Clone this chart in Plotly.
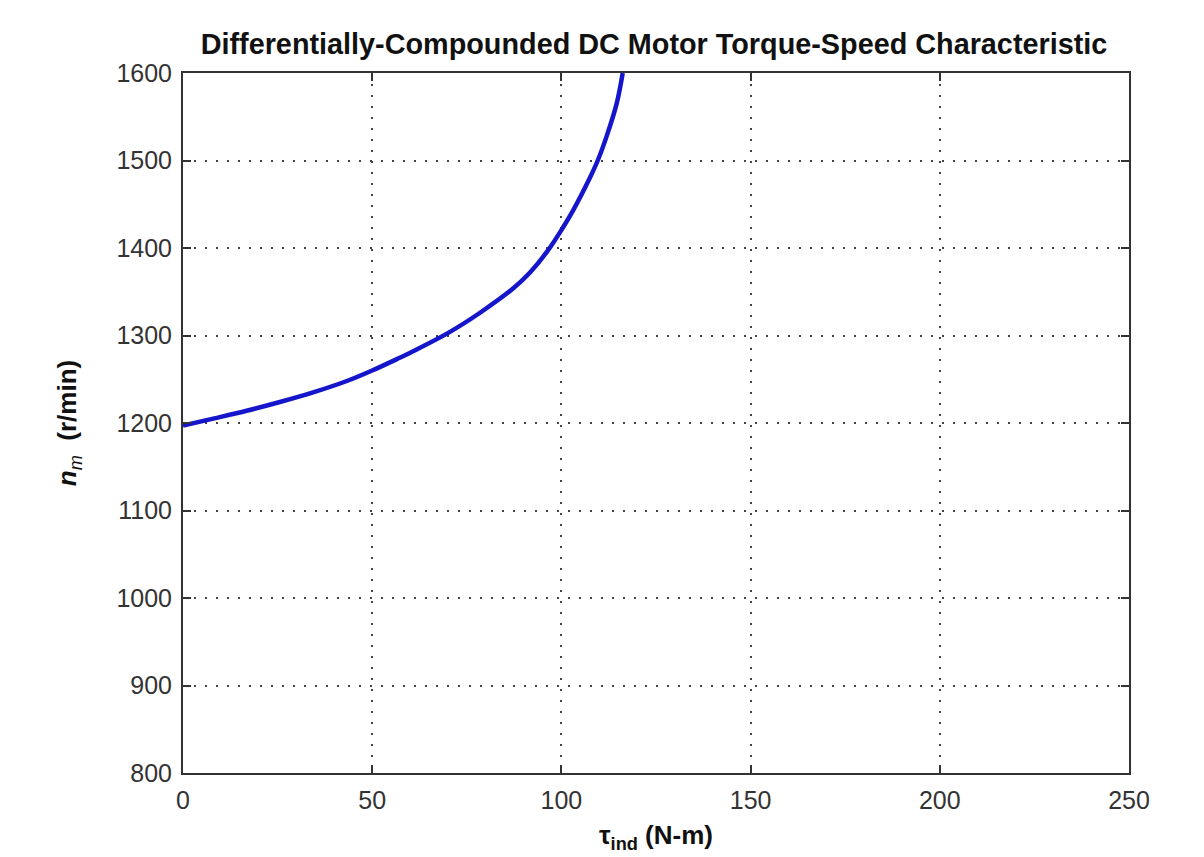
import plotly.graph_objects as go

torque = [0, 8, 16.8, 25.6, 34.4, 43.3, 50, 56.5, 60.8, 70.1, 78.5, 87.3, 91.7,
          96.4, 100.5, 103.1, 107.5, 109.6, 111.9, 114.6, 116.2]
speed = [1197, 1205, 1214, 1224, 1235, 1248, 1260, 1273, 1282, 1303, 1326, 1354, 1372,
         1397, 1424, 1443, 1480, 1500, 1527, 1565, 1600]

x_ticks = [0, 50, 100, 150, 200, 250]
y_ticks = [800, 900, 1000, 1100, 1200, 1300, 1400, 1500, 1600]

title_text = "Differentially-Compounded DC Motor Torque-Speed Characteristic"
x_title = "<b>τ<sub>ind</sub> (N-m)</b>"
y_title = "<b><i>n</i></b><sub><i>m</i></sub><b>  (r/min)</b>"

FONT = "Liberation Sans, Arial, sans-serif"

fig = go.Figure()
fig.add_trace(go.Scatter(x=torque, y=speed, mode="lines",
                         line=dict(color="#1515cc", width=4.5, shape="spline", smoothing=1.0),
                         showlegend=False))

axis_common = dict(
    showline=True, linecolor="#333333", linewidth=2, mirror="ticks",
    ticks="inside", ticklen=8, tickwidth=1.5, tickcolor="#333333",
    showgrid=True, gridcolor="#444444", griddash="2px,9px", gridwidth=2,
    zeroline=False, ticklabelstandoff=4,
    tickfont=dict(family=FONT, size=25, color="#333333"),
)

fig.update_layout(
    width=1204, height=857,
    paper_bgcolor="white", plot_bgcolor="white",
    margin=dict(l=183, r=75, t=73, b=84),
    title=dict(text="<b>" + title_text + "</b>", x=(200 + 1108) / 2 / 1204, xanchor="center",
               y=1 - 44 / 857, yanchor="middle",
               font=dict(family=FONT, size=28.8, color="#111111")),
    xaxis=dict(range=[0, 250], tickvals=x_ticks, ticktext=[str(v) for v in x_ticks],
               title=dict(text=x_title, standoff=13,
                          font=dict(family=FONT, size=26, color="#111111")),
               **axis_common),
    yaxis=dict(range=[800, 1600], tickvals=y_ticks, ticktext=[str(v) for v in y_ticks],
               title=dict(text=y_title, standoff=32,
                          font=dict(family=FONT, size=26, color="#111111")),
               **axis_common),
)

fig.write_html("out.html")
